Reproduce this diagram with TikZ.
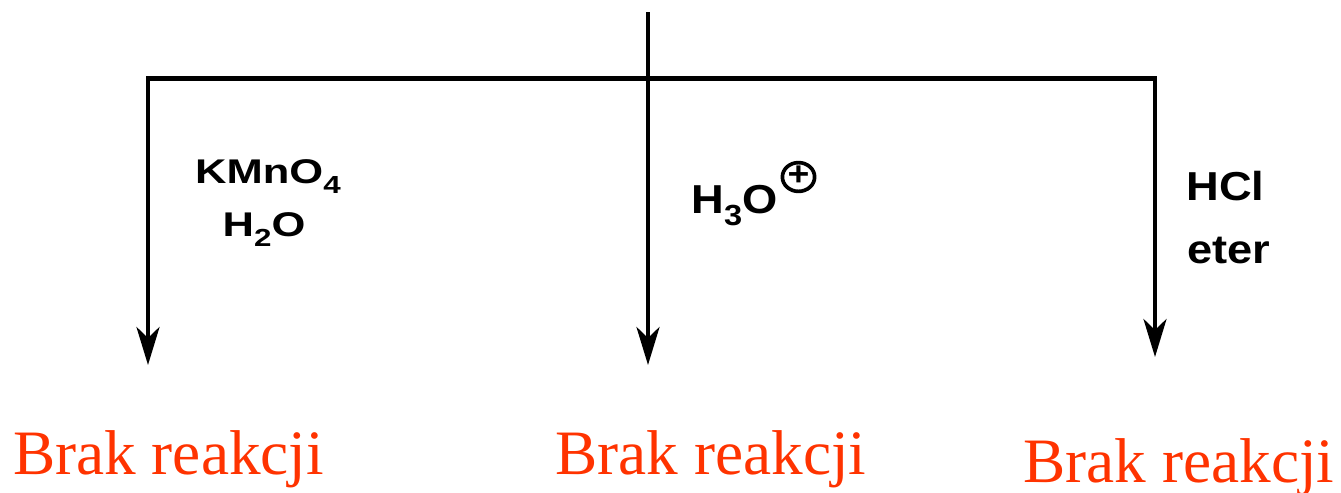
\documentclass[tikz,border=0pt]{standalone}
\usepackage{fontspec}
\setmainfont{Liberation Serif}
\setsansfont{Liberation Sans}
\usetikzlibrary{arrows.meta}
\definecolor{resred}{RGB}{255,51,0}
\newcommand{\chsub}[1]{\raisebox{-0.32em}{\scalebox{0.72}{#1}}}

\begin{document}
\begin{tikzpicture}[
    line width=2.5pt,
    tip/.tip={Stealth[length=0.76cm,width=0.46cm,inset=0.22cm]},
    reag/.style={anchor=base west,inner sep=0pt,font=\sffamily\bfseries\fontsize{23}{26}\selectfont,xscale=1.12},
    kreag/.style={anchor=base,inner sep=0pt,font=\sffamily\bfseries\fontsize{19.5}{22}\selectfont,xscale=1.27},
    res/.style={anchor=base,inner sep=0pt,text=resred,font=\fontsize{36}{40}\selectfont}]
  \useasboundingbox (0,0) rectangle (26.82,-9.84);

  \coordinate (top) at (12.96,-0.24);
  \coordinate (lcorner) at (2.96,-1.57);
  \coordinate (rcorner) at (23.10,-1.57);
  \coordinate (ltip) at (2.96,-7.30);
  \coordinate (mtip) at (12.96,-7.30);
  \coordinate (rtip) at (23.10,-7.14);

  \draw[tip-tip,line join=miter] (ltip) -- (lcorner) -- (rcorner) -- (rtip);
  \draw[-tip] (top) -- (mtip);

  % reagents
  \node[kreag] (kmno) at (5.36,-3.66) {KMnO\chsub{4}};
  \node[kreag] (water) at (5.28,-4.72) {H\chsub{2}O};
  \node[reag] (hydro) at (13.78,-4.26) {H\chsub{3}O};
  \node[draw,circle,line width=2.1pt,minimum size=0.56cm,inner sep=0pt,xscale=1.12,
        font=\sffamily\bfseries\fontsize{19}{19}\selectfont] (plus) at (15.97,-3.54) {\raisebox{0.05em}{+}};
  \node[reag] (hcl) at (23.68,-4.00) {HCl};
  \node[reag] (eter) at (23.70,-5.26) {eter};

  % results
  \node[res] (res1) at (3.37,-9.48) {Brak reakcji};
  \node[res] (res2) at (14.22,-9.48) {Brak reakcji};
  \node[res] (res3) at (23.58,-9.64) {Brak reakcji};
\end{tikzpicture}
\end{document}
